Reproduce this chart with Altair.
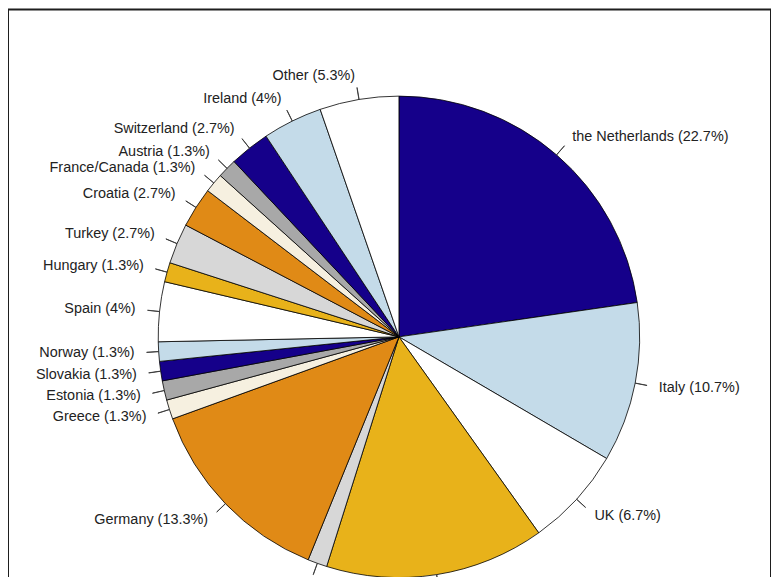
import altair as alt
import pandas as pd

# Two slices at the bottom have their labels cut off in the reference (not readable)
countries = ["the Netherlands", "Italy", "UK", "(unreadable A)", "(unreadable B)", "Germany",
             "Greece", "Estonia", "Slovakia", "Norway", "Spain", "Hungary",
             "Turkey", "Croatia", "France/Canada", "Austria", "Switzerland",
             "Ireland", "Other"]
percents = [22.7, 10.7, 6.7, 14.7, 1.3, 13.3, 1.3, 1.3, 1.3, 1.3, 4, 1.3,
            2.7, 2.7, 1.3, 1.3, 2.7, 4, 5.3]
show_label = [True, True, True, False, False, True, True, True, True, True, True,
              True, True, True, True, True, True, True, True]
palette = ["#15008a", "#c4dbe9", "#ffffff", "#e8b21a", "#d7d7d7", "#e08a16",
           "#f6f0e0", "#a8a8a8"]

colors = [palette[i % len(palette)] for i in range(len(countries))]
labels = [f"{c} ({p:g}%)" if s else "" for c, p, s in zip(countries, percents, show_label)]

df = pd.DataFrame({
    "idx": list(range(len(countries))),
    "country": countries,
    "pct": percents,
    "label": labels,
})

total = sum(percents)
R = 242
CX, CY = 393, 329
theta_scale = alt.Scale(domain=[0, total])
color_enc = alt.Color("country:N", scale=alt.Scale(domain=countries, range=colors), legend=None)

arcs = alt.Chart(df).mark_arc(radius=R, stroke="black", strokeWidth=0.8, clip=True).encode(
    theta=alt.Theta("pct:Q", stack=True, scale=theta_scale),
    order=alt.Order("idx:Q"),
    color=color_enc,
    x=alt.value(CX), y=alt.value(CY),
)

base = alt.Chart(df).transform_window(
    cum="sum(pct)", sort=[alt.SortField("idx")]
).transform_calculate(
    mid="datum.cum - datum.pct / 2",
    t1="datum.cum - datum.pct / 2 - 0.006",
    t2="datum.cum - datum.pct / 2 + 0.006",
)

ticks = base.mark_arc(radius=R * 1.05, radius2=R, fill="#333", stroke="#333",
                      strokeWidth=0.8, clip=True).encode(
    theta=alt.Theta("t1:Q", stack=False, scale=theta_scale),
    theta2="t2:Q",
    x=alt.value(CX), y=alt.value(CY),
)

text_style = dict(radius=R * 1.1, baseline="middle", fontSize=14.5,
                  font="Liberation Sans", color="#222222", clip=True)

text_right = base.transform_filter(
    f"datum.mid < {total / 2} && datum.label != ''"
).mark_text(align="left", **text_style).encode(
    theta=alt.Theta("mid:Q", stack=False, scale=theta_scale),
    text="label:N",
    x=alt.value(CX), y=alt.value(CY),
)
text_left = base.transform_filter(
    f"datum.mid >= {total / 2} && datum.label != ''"
).mark_text(align="right", **text_style).encode(
    theta=alt.Theta("mid:Q", stack=False, scale=theta_scale),
    text="label:N",
    x=alt.value(CX), y=alt.value(CY),
)

chart = alt.layer(arcs, ticks, text_right, text_left).properties(
    width=767, height=600, padding=0, autosize="none"
).configure_view(stroke="#1e1e1e", strokeWidth=2)

chart.save("out.html", embed_options={"renderer": "svg", "actions": False})
